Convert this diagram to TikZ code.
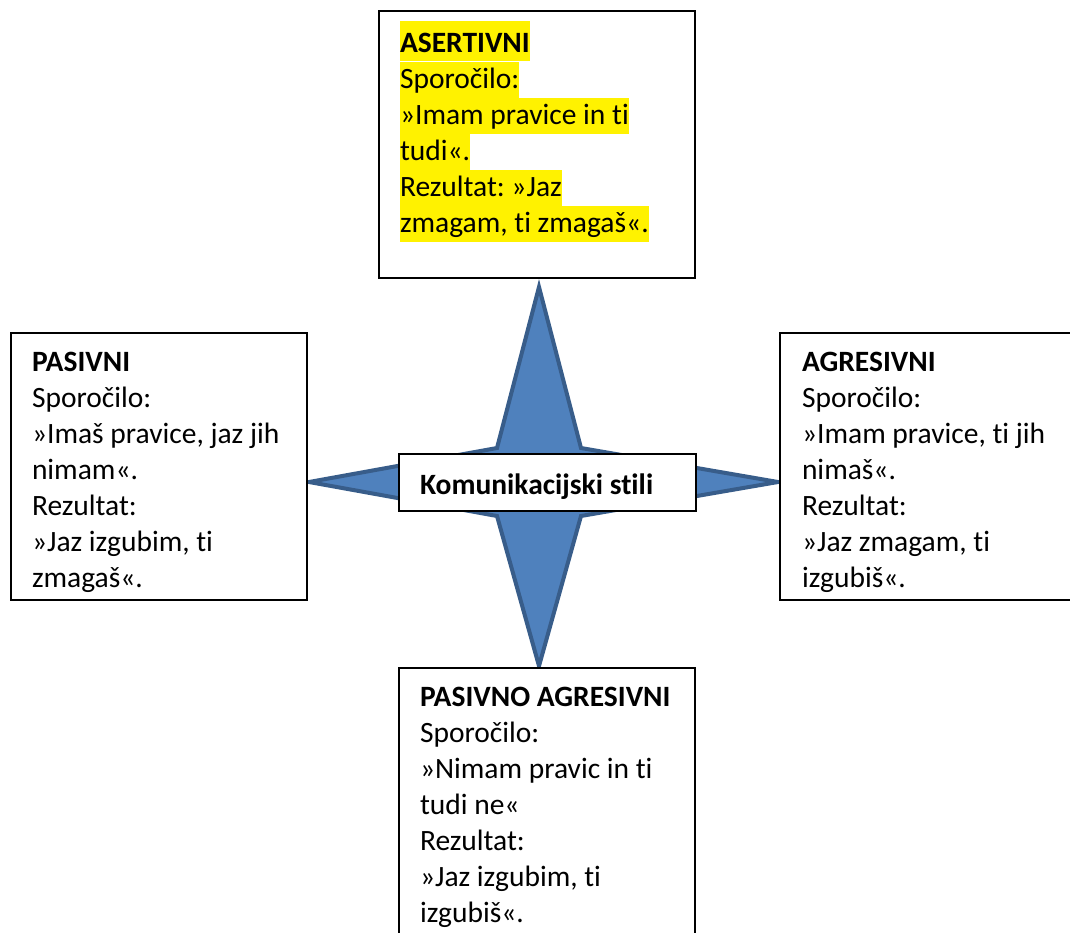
\documentclass[tikz,border=0pt]{standalone}
\usepackage{fontspec}
\setmainfont{Carlito}[RawFeature={-liga;-dlig}]
\definecolor{starfill}{HTML}{4F81BD}
\definecolor{stardraw}{HTML}{385D8A}
\newcommand\hlA[1]{{\setlength{\fboxsep}{0pt}\colorbox{yellow}{\rule[-9pt]{0pt}{40pt}#1}}}
\newcommand\hlB[1]{{\setlength{\fboxsep}{0pt}\colorbox{yellow}{\rule[-9.5pt]{0pt}{36pt}#1}}}
\newcommand\boxtext[1]{\parbox[t]{300pt}{\raggedright\frenchspacing\fontsize{29.5}{36}\selectfont #1}}
\begin{document}
\begin{tikzpicture}[x=1pt,y=-1pt,
  frame/.style={draw=black,line width=2pt,fill=white},
  txt/.style={anchor=base west,inner sep=0pt,outer sep=0pt}]
\useasboundingbox (0,0) rectangle (1070,932);
\clip (0,0) rectangle (1070,932);
% star
\draw[fill=starfill,draw=stardraw,line width=4pt,line join=miter]
  (539,287) -- (581,448) -- (778,482) -- (581,516) -- (539,666)
  -- (497,516) -- (309,482) -- (497,448) -- cycle;
% center box
\node[frame,minimum width=297pt,minimum height=57pt,inner sep=0pt] (center) at (547.5,482.5) {};
\node[txt,font=\fontsize{29.5}{36}\selectfont\bfseries] (ctext) at (420,494) {Komunikacijski stili};
% outer boxes
\draw[frame] (379,11) rectangle (695,278);
\draw[frame] (11,333) rectangle (307,600);
\draw[frame] (780,333) rectangle (1080,600);
\draw[frame] (399,945) -- (399,668) -- (695,668) -- (695,945);
% texts
\node[txt] (asert) at (400,52) {\boxtext{\hlA{\textbf{ASERTIVNI}}\\
\hlB{Sporočilo:}\\
\hlB{»Imam pravice in ti}\\
\hlB{tudi«.}\\
\hlB{Rezultat: »Jaz}\\
\hlB{zmagam, ti zmagaš«.}}};
\node[txt] (pasiv) at (32,371) {\boxtext{\textbf{PASIVNI}\\
Sporočilo:\\
»Imaš pravice, jaz jih\\
nimam«.\\
Rezultat:\\
»Jaz izgubim, ti\\
zmagaš«.}};
\node[txt] (agres) at (802,371) {\boxtext{\textbf{AGRESIVNI}\\
Sporočilo:\\
»Imam pravice, ti jih\\
nimaš«.\\
Rezultat:\\
»Jaz zmagam, ti\\
izgubiš«.}};
\node[txt] (pasag) at (420,706) {\boxtext{\textbf{PASIVNO AGRESIVNI}\\
Sporočilo:\\
»Nimam pravic in ti\\
tudi ne«\\
Rezultat:\\
»Jaz izgubim, ti\\
izgubiš«.}};
\end{tikzpicture}
\end{document}
